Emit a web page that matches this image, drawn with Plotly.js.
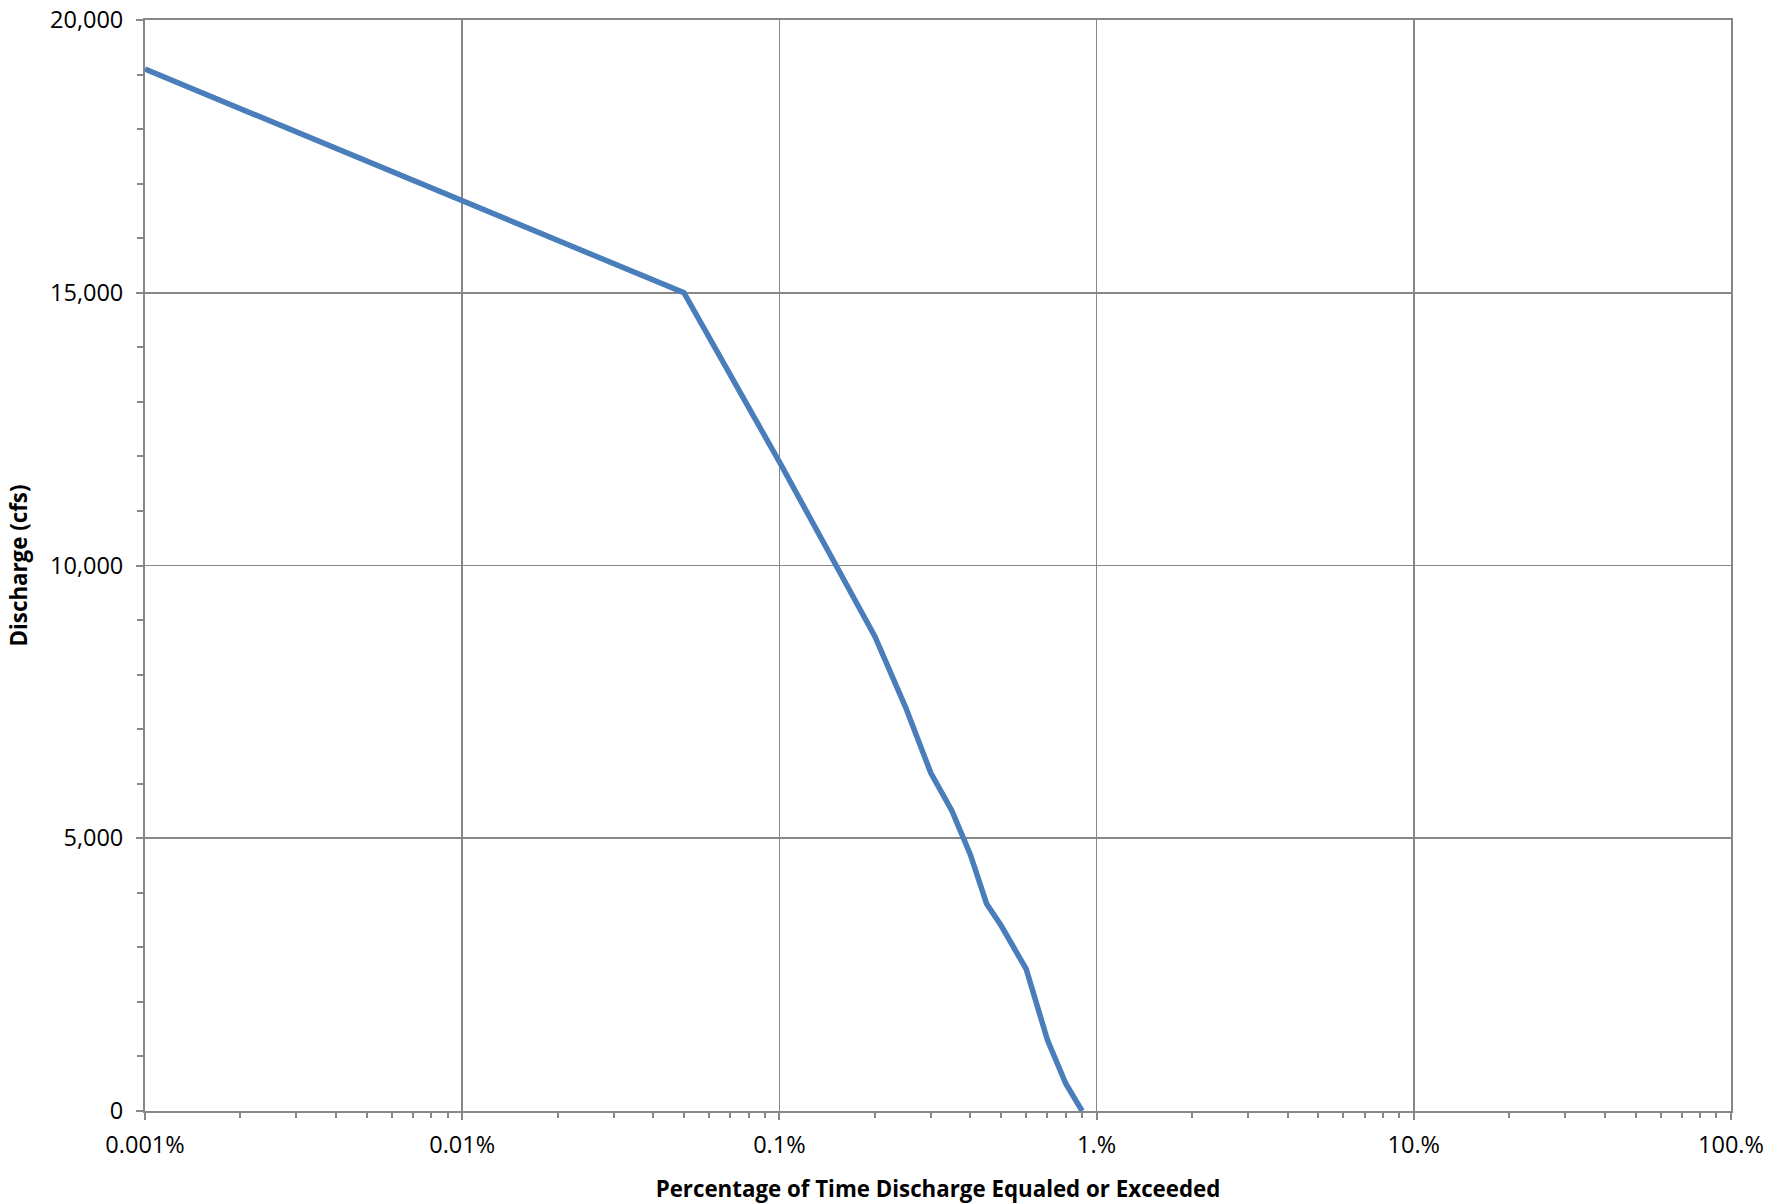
<!DOCTYPE html>
<html>
<head>
<meta charset="utf-8">
<script src="https://cdn.plot.ly/plotly-3.0.1.min.js"></script>
<style>
  html, body { margin: 0; padding: 0; background: #ffffff; }
  #chart { width: 1786px; height: 1204px; }
</style>
</head>
<body>
<div id="chart"></div>
<script>
// Percentage of time discharge equaled or exceeded (%)
const exceedancePct = [0.001, 0.01, 0.05, 0.1, 0.15, 0.2, 0.25, 0.3, 0.35, 0.4, 0.45, 0.5, 0.6, 0.7, 0.8, 0.9];
// Discharge (cfs)
const dischargeCfs = [19100, 16700, 15000, 11900, 10050, 8700, 7400, 6200, 5500, 4700, 3800, 3400, 2600, 1300, 500, 0];

const xTickVals = [0.001, 0.01, 0.1, 1, 10, 100];
const xTickText = ["0.001%", "0.01%", "0.1%", "1.%", "10.%", "100.%"];
const yTickVals = [0, 5000, 10000, 15000, 20000];
const yTickText = ["0", "5,000", "10,000", "15,000", "20,000"];

const xMinorVals = [];
for (let d = 0; d < xTickVals.length - 1; d++) {
  for (let m = 2; m <= 9; m++) xMinorVals.push(xTickVals[d] * m);
}

const gray = "#878787";
const font = "'Open Sans', 'Liberation Sans', sans-serif";

const trace = {
  x: exceedancePct,
  y: dischargeCfs,
  type: "scatter",
  mode: "lines",
  line: { color: "#4a7ebb", width: 5.5 },
  hoverinfo: "x+y",
  showlegend: false
};

const layout = {
  width: 1786,
  height: 1204,
  paper_bgcolor: "#ffffff",
  plot_bgcolor: "#ffffff",
  margin: { l: 145, r: 55, t: 20, b: 93, pad: 0 },
  font: { family: font, size: 23.5, color: "#000000" },
  showlegend: false,
  xaxis: {
    type: "log",
    range: [-3, 2],
    tickmode: "array",
    tickvals: xTickVals,
    ticktext: xTickText,
    ticks: "outside",
    ticklen: 7,
    tickwidth: 2,
    tickcolor: gray,
    ticklabelstandoff: 5,
    showgrid: true,
    gridcolor: gray,
    gridwidth: 1.8,
    showline: true,
    linecolor: gray,
    linewidth: 2,
    mirror: true,
    zeroline: false,
    tickfont: { family: font, size: 23.5, color: "#000000" },
    minor: {
      tickmode: "array",
      tickvals: xMinorVals,
      ticks: "outside",
      ticklen: 5,
      tickwidth: 2,
      tickcolor: gray,
      showgrid: false
    },
    title: {
      text: "<b>Percentage of Time Discharge Equaled or Exceeded</b>",
      font: { family: font, size: 22.3, color: "#000000" },
      standoff: 22
    }
  },
  yaxis: {
    range: [0, 20000],
    tickmode: "array",
    tickvals: yTickVals,
    ticktext: yTickText,
    ticks: "outside",
    ticklen: 7,
    tickwidth: 2,
    tickcolor: gray,
    ticklabelstandoff: 8,
    showgrid: true,
    gridcolor: gray,
    gridwidth: 1.8,
    showline: true,
    linecolor: gray,
    linewidth: 2,
    mirror: true,
    zeroline: false,
    tickfont: { family: font, size: 23.5, color: "#000000" },
    minor: {
      dtick: 1000,
      ticks: "outside",
      ticklen: 6,
      tickwidth: 2,
      tickcolor: gray,
      showgrid: false
    },
    title: {
      text: "<b>Discharge (cfs)</b>",
      font: { family: font, size: 22.3, color: "#000000" },
      standoff: 16
    }
  }
};

Plotly.newPlot("chart", [trace], layout, { displayModeBar: false, staticPlot: true });
</script>
</body>
</html>
